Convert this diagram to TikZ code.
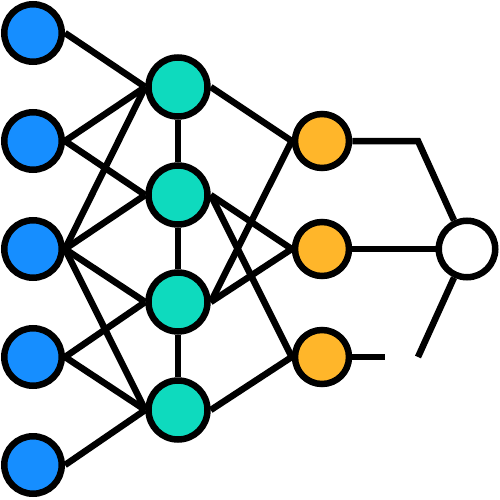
\documentclass[tikz,border=0pt]{standalone}
\definecolor{nnblue}{RGB}{22,142,255}
\definecolor{nnteal}{RGB}{14,218,190}
\definecolor{nnorange}{RGB}{255,182,42}
\tikzset{
  neuron/.style={circle,draw=black,line width=6.5pt,inner sep=0pt,minimum size=57.5pt},
  inputn/.style={neuron,fill=nnblue},
  hiddenn/.style={neuron,fill=nnteal,minimum size=59pt},
  outn/.style={neuron,fill=nnorange,minimum size=54pt},
  sumn/.style={neuron,fill=white,minimum size=56.5pt},
  link/.style={line width=6.5pt,draw=black}
}
\begin{document}
\begin{tikzpicture}[x=1pt,y=-1pt]
\useasboundingbox (0,0) rectangle (500,500);
% input layer
\node[inputn] (B1) at (33,33) {};
\node[inputn] (B2) at (33,141) {};
\node[inputn] (B3) at (33,249) {};
\node[inputn] (B4) at (33,357) {};
\node[inputn] (B5) at (33,465) {};
% hidden layer
\node[hiddenn] (T1) at (178,87) {};
\node[hiddenn] (T2) at (178,195) {};
\node[hiddenn] (T3) at (178,302) {};
\node[hiddenn] (T4) at (178,410) {};
% output layer
\node[outn] (O1) at (322,141) {};
\node[outn] (O2) at (322,249) {};
\node[outn] (O3) at (322,357) {};
% summation node
\node[sumn] (W) at (467,249) {};
\coordinate (K1) at (418,141);
\coordinate (E3) at (385,357);
\coordinate (K3) at (418,357);
% input -> hidden
\draw[link] (B1.east) -- (T1.west);
\draw[link] (B2.east) -- (T1.west);
\draw[link] (B2.east) -- (T2.west);
\draw[link] (B3.east) -- (T1.west);
\draw[link] (B3.east) -- (T2.west);
\draw[link] (B3.east) -- (T3.west);
\draw[link] (B3.east) -- (T4.west);
\draw[link] (B4.east) -- (T3.west);
\draw[link] (B4.east) -- (T4.west);
\draw[link] (B5.east) -- (T4.west);
% hidden chain
\draw[link] (T1.south) -- (T2.north);
\draw[link] (T2.south) -- (T3.north);
\draw[link] (T3.south) -- (T4.north);
% hidden -> output
\draw[link] (T1.east) -- (O1.west);
\draw[link] (T2.east) -- (O2.west);
\draw[link] (T2.east) -- (O3.west);
\draw[link] (T3.east) -- (O1.west);
\draw[link] (T3.east) -- (O2.west);
\draw[link] (T4.east) -- (O3.west);
% output -> summation
\draw[link] (O1.east) -- (K1) -- (W);
\draw[link] (O2.east) -- (W.west);
\draw[link] (O3.east) -- (E3);
\draw[link] (K3) -- (W);
\end{tikzpicture}
\end{document}
